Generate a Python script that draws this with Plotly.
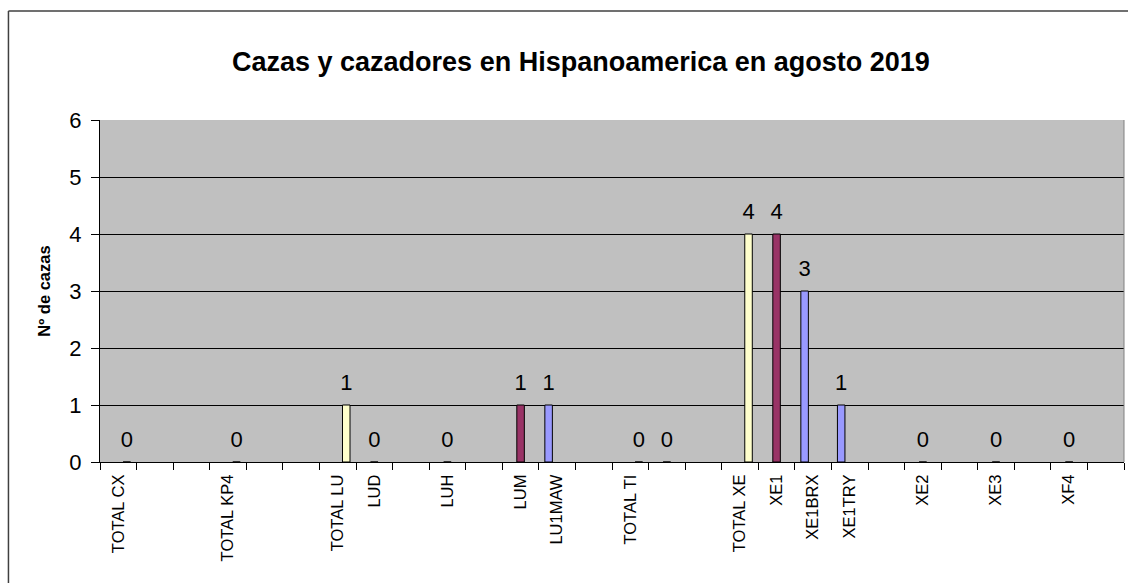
import plotly.graph_objects as go

# Category slots along the x axis (empty strings are blank rows in the sheet)
categories = [
    "TOTAL CX", "", "", "TOTAL KP4", "", "", "TOTAL LU", "LUD", "", "LUH",
    "", "LUM", "LU1MAW", "", "TOTAL TI", "", "", "TOTAL XE", "XE1", "XE1BRX",
    "XE1TRY", "", "XE2", "", "XE3", "", "XF4", "",
]

# None = no value in that slot
serie1 = [None] * 12 + [1] + [None] * 6 + [3, 1] + [None] * 7
serie2 = [None, None, None, None, None, None, None, 0, None, 0,
          None, 1, None, None, None, 0, None, None, 4, None,
          None, None, 0, None, 0, None, 0, None]
serie3 = [0, None, None, 0, None, None, 1, None, None, None,
          None, None, None, None, 0, None, None, 4, None, None,
          None, None, None, None, None, None, None, None]

series = [
    ("Serie1", serie1, "#9999FF"),
    ("Serie2", serie2, "#993366"),
    ("Serie3", serie3, "#FFFFCC"),
]

y_ticks = [0, 1, 2, 3, 4, 5, 6]

FONT = "Arial, Liberation Sans, sans-serif"
xs = list(range(len(categories)))

W, H = 1128, 583
BARGAP = 0.3

fig = go.Figure()
for k, (name, values, color) in enumerate(series):
    fig.add_trace(
        go.Bar(
            x=xs,
            y=values,
            name=name,
            offsetgroup=str(k),
            alignmentgroup="a",
            marker={"color": color, "line": {"color": "#000000", "width": 1}},
        )
    )
# data labels as grouped scatter text so they sit above their own bar
for k, (name, values, color) in enumerate(series):
    fig.add_trace(
        go.Scatter(
            x=xs,
            y=values,
            name=name,
            offsetgroup=str(k),
            alignmentgroup="a",
            mode="markers+text",
            marker={"size": 14, "opacity": 0},
            text=["" if v is None else str(v) for v in values],
            textposition="top center",
            textfont={"family": FONT, "size": 22, "color": "#000000"},
            cliponaxis=False,
            hoverinfo="skip",
        )
    )

fig.update_layout(
    width=W,
    height=H,
    barmode="group",
    bargap=BARGAP,
    bargroupgap=0.12,
    scattermode="group",
    scattergap=BARGAP,
    showlegend=False,
    paper_bgcolor="#FFFFFF",
    plot_bgcolor="#C0C0C0",
    margin={"l": 100, "r": 4, "t": 120, "b": 121, "autoexpand": False},
    font={"family": FONT, "color": "#000000"},
    title={
        "text": "<b>Cazas y cazadores en Hispanoamerica en agosto 2019</b>",
        "font": {"family": FONT, "size": 27, "color": "#000000"},
        "x": 0.515,
        "xanchor": "center",
        "y": 1 - 62 / H,
        "yanchor": "middle",
    },
    xaxis={
        "range": [-0.5, len(categories) - 0.5],
        "automargin": False,
        "tickmode": "array",
        "tickvals": xs,
        "ticktext": categories,
        "tickangle": -90,
        "ticks": "",
        "ticklabelstandoff": 5,
        "tickfont": {"family": FONT, "size": 16.5},
        "showgrid": False,
        "showline": True,
        "linecolor": "#000000",
        "linewidth": 1,
        "zeroline": False,
        "minor": {
            "tickmode": "array",
            "tickvals": [i - 0.5 for i in range(len(categories) + 1)],
            "ticks": "outside",
            "ticklen": 7,
            "tickcolor": "#000000",
            "showgrid": False,
        },
    },
    yaxis={
        "range": [0, 6],
        "automargin": False,
        "tickmode": "array",
        "tickvals": y_ticks,
        "ticks": "outside",
        "ticklen": 8,
        "tickcolor": "#000000",
        "ticklabelstandoff": 5,
        "tickfont": {"family": FONT, "size": 22},
        "showgrid": True,
        "gridcolor": "#000000",
        "gridwidth": 1,
        "showline": True,
        "linecolor": "#000000",
        "linewidth": 1,
        "zeroline": False,
        "title": {
            "text": "<b>Nº de cazas</b>",
            "font": {"family": FONT, "size": 16.5},
            "standoff": 14,
        },
    },
    shapes=[
        # chart frame: only its top and left edges fall inside the picture
        {
            "type": "line",
            "xref": "paper",
            "yref": "paper",
            "x0": -0.0894,
            "x1": 1.2,
            "y0": 1.3187,
            "y1": 1.3187,
            "line": {"color": "#404040", "width": 1.5},
            "layer": "below",
        },
        {
            "type": "line",
            "xref": "paper",
            "yref": "paper",
            "x0": -0.0894,
            "x1": -0.0894,
            "y0": -1.0,
            "y1": 1.3187,
            "line": {"color": "#404040", "width": 1.5},
            "layer": "below",
        },
        # right edge of plot area
        {
            "type": "line",
            "xref": "paper",
            "yref": "paper",
            "x0": 1,
            "x1": 1,
            "y0": 0,
            "y1": 1,
            "line": {"color": "#808080", "width": 1},
        },
    ],
)

# drop the default 8px page margin so the figure fills the window exactly
fig.write_html(
    "out.html",
    config={"displayModeBar": False},
    post_script="document.body.style.margin = '0';",
)
